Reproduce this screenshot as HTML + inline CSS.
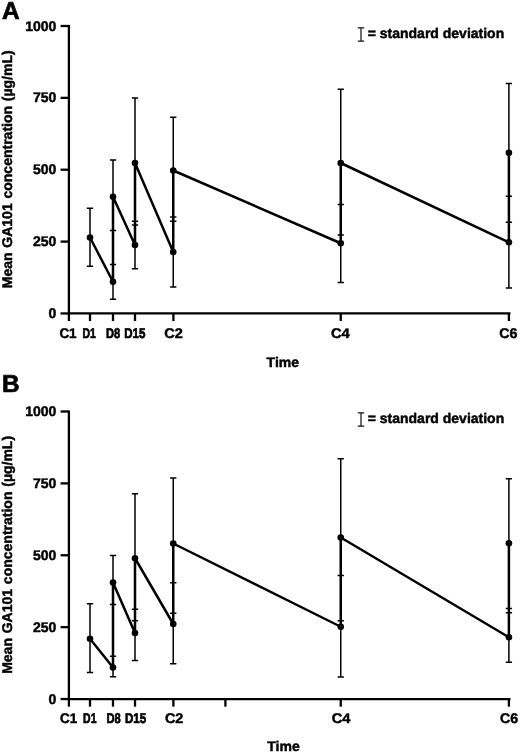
<!DOCTYPE html>
<html><head><meta charset="utf-8"><title>Figure</title>
<style>.t{font-family:"Liberation Sans",sans-serif;font-weight:bold;fill:#000;stroke:#000;stroke-width:0.45px;text-rendering:geometricPrecision}html,body{margin:0;padding:0;background:#fff;}body{width:520px;height:753px;overflow:hidden;font-family:"Liberation Sans",sans-serif;}</style>
</head><body>
<svg width="520" height="753" viewBox="0 0 520 753" style="display:block;will-change:transform;opacity:0.999">
<rect width="520" height="753" fill="#fff"/>
<path d="M68.9 25.0 V313.45 M67.9 313.45 H510.5" stroke="#000" stroke-width="2.3" fill="none"/>
<path d="M60.6 313.45 H68.9" stroke="#000" stroke-width="2.3"/>
<text x="56.3" y="318.05" text-anchor="end" font-size="14" class="t">0</text>
<path d="M60.6 241.59 H68.9" stroke="#000" stroke-width="2.3"/>
<text x="56.3" y="246.19" text-anchor="end" font-size="14" class="t">250</text>
<path d="M60.6 169.72 H68.9" stroke="#000" stroke-width="2.3"/>
<text x="56.3" y="174.32" text-anchor="end" font-size="14" class="t">500</text>
<path d="M60.6 97.86 H68.9" stroke="#000" stroke-width="2.3"/>
<text x="56.3" y="102.46" text-anchor="end" font-size="14" class="t">750</text>
<path d="M60.6 26.00 H68.9" stroke="#000" stroke-width="2.3"/>
<text x="56.3" y="30.60" text-anchor="end" font-size="14" class="t">1000</text>
<path d="M68.9 313.45 V321.05" stroke="#000" stroke-width="2.3"/>
<text x="59.40" y="337.55" textLength="17.2" lengthAdjust="spacingAndGlyphs" font-size="14" class="t">C1</text>
<path d="M90 313.45 V321.05" stroke="#000" stroke-width="2.3"/>
<text x="82.40" y="337.55" textLength="13.4" lengthAdjust="spacingAndGlyphs" font-size="14" style="stroke-width:0.7px" class="t">D1</text>
<path d="M113 313.45 V321.05" stroke="#000" stroke-width="2.3"/>
<text x="105.90" y="337.55" textLength="14.2" lengthAdjust="spacingAndGlyphs" font-size="14" style="stroke-width:0.7px" class="t">D8</text>
<path d="M135 313.45 V321.05" stroke="#000" stroke-width="2.3"/>
<text x="124.20" y="337.55" textLength="21.2" lengthAdjust="spacingAndGlyphs" font-size="14" style="stroke-width:0.7px" class="t">D15</text>
<path d="M173.4 313.45 V321.05" stroke="#000" stroke-width="2.3"/>
<text x="164.20" y="337.55" textLength="18.5" lengthAdjust="spacingAndGlyphs" font-size="14" class="t">C2</text>
<path d="M340.75 313.45 V321.05" stroke="#000" stroke-width="2.3"/>
<text x="331.00" y="337.55" textLength="18.8" lengthAdjust="spacingAndGlyphs" font-size="14" class="t">C4</text>
<path d="M508.9 313.45 V321.05" stroke="#000" stroke-width="2.3"/>
<text x="499.20" y="337.55" textLength="18.2" lengthAdjust="spacingAndGlyphs" font-size="14" class="t">C6</text>
<path d="M90 208.25 V266.25 M86.85 208.25 H93.15 M86.85 266.25 H93.15" stroke="#000" stroke-width="1.5" fill="none"/>
<path d="M113 264.5 V299.25 M109.85 264.5 H116.15 M109.85 299.25 H116.15" stroke="#000" stroke-width="1.5" fill="none"/>
<path d="M113 160 V230.5 M109.85 160 H116.15 M109.85 230.5 H116.15" stroke="#000" stroke-width="1.5" fill="none"/>
<path d="M135 221.25 V268.75 M131.85 221.25 H138.15 M131.85 268.75 H138.15" stroke="#000" stroke-width="1.5" fill="none"/>
<path d="M135 98 V225 M131.85 98 H138.15 M131.85 225 H138.15" stroke="#000" stroke-width="1.5" fill="none"/>
<path d="M173.25 217 V287 M170.1 217 H176.4 M170.1 287 H176.4" stroke="#000" stroke-width="1.5" fill="none"/>
<path d="M173.25 117.25 V221.25 M170.1 117.25 H176.4 M170.1 221.25 H176.4" stroke="#000" stroke-width="1.5" fill="none"/>
<path d="M340.75 204.5 V282.5 M337.6 204.5 H343.9 M337.6 282.5 H343.9" stroke="#000" stroke-width="1.5" fill="none"/>
<path d="M340.75 89.25 V235 M337.6 89.25 H343.9 M337.6 235 H343.9" stroke="#000" stroke-width="1.5" fill="none"/>
<path d="M508.9 196.3 V288 M505.75 196.3 H512.05 M505.75 288 H512.05" stroke="#000" stroke-width="1.5" fill="none"/>
<path d="M508.9 83.5 V222.3 M505.75 83.5 H512.05 M505.75 222.3 H512.05" stroke="#000" stroke-width="1.5" fill="none"/>
<path d="M90 237.5 L113 281.75 L113 196.75 L135 245 L135 163 L173.25 252 L173.25 170.5 L340.75 243.25 L340.75 163 L508.9 242.3 L508.9 152.7" stroke="#000" stroke-width="2.5" fill="none" stroke-linejoin="round"/>
<circle cx="90" cy="237.5" r="3.3" fill="#000"/>
<circle cx="113" cy="281.75" r="3.3" fill="#000"/>
<circle cx="113" cy="196.75" r="3.3" fill="#000"/>
<circle cx="135" cy="245" r="3.3" fill="#000"/>
<circle cx="135" cy="163" r="3.3" fill="#000"/>
<circle cx="173.25" cy="252" r="3.3" fill="#000"/>
<circle cx="173.25" cy="170.5" r="3.3" fill="#000"/>
<circle cx="340.75" cy="243.25" r="3.3" fill="#000"/>
<circle cx="340.75" cy="163" r="3.3" fill="#000"/>
<circle cx="508.9" cy="242.3" r="3.3" fill="#000"/>
<circle cx="508.9" cy="152.7" r="3.3" fill="#000"/>
<text x="2" y="18.9" font-size="24.4" style="stroke-width:0.7px" class="t">A</text>
<text transform="translate(11.7,288.25) rotate(-90)" style="word-spacing:0.9px" font-size="14" class="t">Mean GA101 concentration (µg/mL)</text>
<text x="282.8" y="366.8" text-anchor="middle" font-size="14" class="t">Time</text>
<path d="M361 27.80 V41.10 M357.8 27.80 H364.2 M357.8 41.10 H364.2" stroke="#111" stroke-width="1.2" fill="none"/>
<text x="367.7" y="38.15" font-size="14" class="t">= standard deviation</text>
<path d="M68.9 410.5 V699.05 M67.9 699.05 H510.5" stroke="#000" stroke-width="2.3" fill="none"/>
<path d="M60.6 699.05 H68.9" stroke="#000" stroke-width="2.3"/>
<text x="56.3" y="703.65" text-anchor="end" font-size="14" class="t">0</text>
<path d="M60.6 627.16 H68.9" stroke="#000" stroke-width="2.3"/>
<text x="56.3" y="631.76" text-anchor="end" font-size="14" class="t">250</text>
<path d="M60.6 555.27 H68.9" stroke="#000" stroke-width="2.3"/>
<text x="56.3" y="559.88" text-anchor="end" font-size="14" class="t">500</text>
<path d="M60.6 483.39 H68.9" stroke="#000" stroke-width="2.3"/>
<text x="56.3" y="487.99" text-anchor="end" font-size="14" class="t">750</text>
<path d="M60.6 411.50 H68.9" stroke="#000" stroke-width="2.3"/>
<text x="56.3" y="416.10" text-anchor="end" font-size="14" class="t">1000</text>
<path d="M68.9 699.05 V706.65" stroke="#000" stroke-width="2.3"/>
<text x="60.10" y="722.85" textLength="17.2" lengthAdjust="spacingAndGlyphs" font-size="14" class="t">C1</text>
<path d="M90 699.05 V706.65" stroke="#000" stroke-width="2.3"/>
<text x="83.10" y="722.85" textLength="13.4" lengthAdjust="spacingAndGlyphs" font-size="14" style="stroke-width:0.7px" class="t">D1</text>
<path d="M113 699.05 V706.65" stroke="#000" stroke-width="2.3"/>
<text x="106.60" y="722.85" textLength="14.2" lengthAdjust="spacingAndGlyphs" font-size="14" style="stroke-width:0.7px" class="t">D8</text>
<path d="M135 699.05 V706.65" stroke="#000" stroke-width="2.3"/>
<text x="124.90" y="722.85" textLength="21.2" lengthAdjust="spacingAndGlyphs" font-size="14" style="stroke-width:0.7px" class="t">D15</text>
<path d="M173.4 699.05 V706.65" stroke="#000" stroke-width="2.3"/>
<text x="164.90" y="722.85" textLength="18.5" lengthAdjust="spacingAndGlyphs" font-size="14" class="t">C2</text>
<path d="M340.75 699.05 V706.65" stroke="#000" stroke-width="2.3"/>
<text x="331.70" y="722.85" textLength="18.8" lengthAdjust="spacingAndGlyphs" font-size="14" class="t">C4</text>
<path d="M508.9 699.05 V706.65" stroke="#000" stroke-width="2.3"/>
<text x="499.90" y="722.85" textLength="18.2" lengthAdjust="spacingAndGlyphs" font-size="14" class="t">C6</text>
<path d="M225.4 699.05 V706.65" stroke="#000" stroke-width="2.3"/>
<path d="M90 603.75 V672.5 M86.85 603.75 H93.15 M86.85 672.5 H93.15" stroke="#000" stroke-width="1.5" fill="none"/>
<path d="M113 656.25 V676.75 M109.85 656.25 H116.15 M109.85 676.75 H116.15" stroke="#000" stroke-width="1.5" fill="none"/>
<path d="M113 555.5 V604.5 M109.85 555.5 H116.15 M109.85 604.5 H116.15" stroke="#000" stroke-width="1.5" fill="none"/>
<path d="M135 609.25 V660.5 M131.85 609.25 H138.15 M131.85 660.5 H138.15" stroke="#000" stroke-width="1.5" fill="none"/>
<path d="M135 493.75 V620.75 M131.85 493.75 H138.15 M131.85 620.75 H138.15" stroke="#000" stroke-width="1.5" fill="none"/>
<path d="M173.25 582.7 V663.75 M170.1 582.7 H176.4 M170.1 663.75 H176.4" stroke="#000" stroke-width="1.5" fill="none"/>
<path d="M173.25 478 V613.3 M170.1 478 H176.4 M170.1 613.3 H176.4" stroke="#000" stroke-width="1.5" fill="none"/>
<path d="M340.75 575.5 V677 M337.6 575.5 H343.9 M337.6 677 H343.9" stroke="#000" stroke-width="1.5" fill="none"/>
<path d="M340.75 458.75 V620.75 M337.6 458.75 H343.9 M337.6 620.75 H343.9" stroke="#000" stroke-width="1.5" fill="none"/>
<path d="M508.9 612.7 V662.3 M505.75 612.7 H512.05 M505.75 662.3 H512.05" stroke="#000" stroke-width="1.5" fill="none"/>
<path d="M508.9 478.8 V608.5 M505.75 478.8 H512.05 M505.75 608.5 H512.05" stroke="#000" stroke-width="1.5" fill="none"/>
<path d="M90 638.75 L113 667.5 L113 582.5 L135 633 L135 558.25 L173.25 624.0 L173.25 543.5 L340.75 626.75 L340.75 537.5 L508.9 637.3 L508.9 543.3" stroke="#000" stroke-width="2.5" fill="none" stroke-linejoin="round"/>
<circle cx="90" cy="638.75" r="3.3" fill="#000"/>
<circle cx="113" cy="667.5" r="3.3" fill="#000"/>
<circle cx="113" cy="582.5" r="3.3" fill="#000"/>
<circle cx="135" cy="633" r="3.3" fill="#000"/>
<circle cx="135" cy="558.25" r="3.3" fill="#000"/>
<circle cx="173.25" cy="624.0" r="3.3" fill="#000"/>
<circle cx="173.25" cy="543.5" r="3.3" fill="#000"/>
<circle cx="340.75" cy="626.75" r="3.3" fill="#000"/>
<circle cx="340.75" cy="537.5" r="3.3" fill="#000"/>
<circle cx="508.9" cy="637.3" r="3.3" fill="#000"/>
<circle cx="508.9" cy="543.3" r="3.3" fill="#000"/>
<text x="2" y="392.3" font-size="24.4" style="stroke-width:0.7px" class="t">B</text>
<text transform="translate(11.7,673.85) rotate(-90)" style="word-spacing:0.9px" font-size="14" class="t">Mean GA101 concentration (µg/mL)</text>
<text x="283.5" y="751.3" text-anchor="middle" font-size="14" class="t">Time</text>
<path d="M361 412.80 V426.10 M357.8 412.80 H364.2 M357.8 426.10 H364.2" stroke="#111" stroke-width="1.2" fill="none"/>
<text x="367.7" y="423.15" font-size="14" class="t">= standard deviation</text>
</svg>
</body></html>
